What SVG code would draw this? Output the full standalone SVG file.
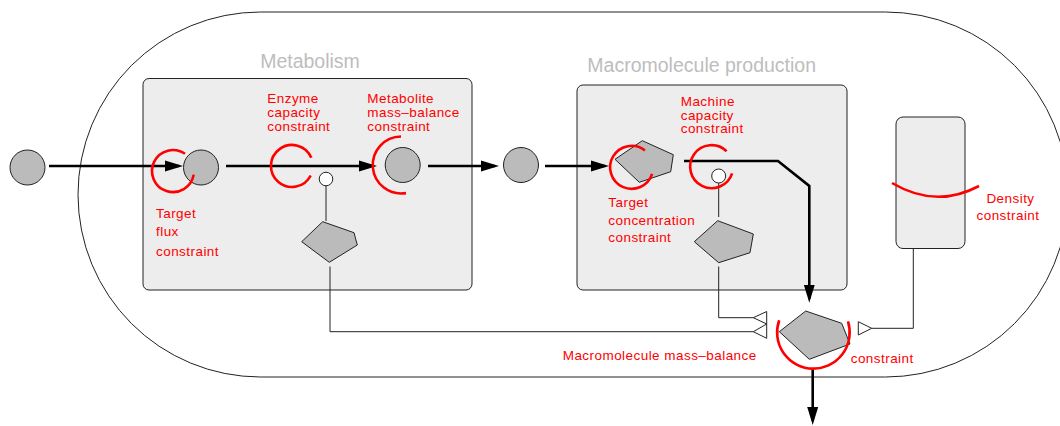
<svg xmlns="http://www.w3.org/2000/svg" width="1060" height="426" viewBox="0 0 1060 426">
<style>
text{font-family:"Liberation Sans",Arial,sans-serif}
.title{font-size:19.5px;fill:#bdbdbd;text-anchor:middle}
.lbl{font-size:13.5px;fill:#ff0000;letter-spacing:0.45px}
.box{fill:#ededed;stroke:#222;stroke-width:1}
.mol{fill:#bbbbbb;stroke:#222;stroke-width:1}
.thin{fill:none;stroke:#222;stroke-width:1}
.thick{fill:none;stroke:#000;stroke-width:2.6}
.red{fill:none;stroke:#ff0000;stroke-width:2.6}
.mod{fill:#fff;stroke:#222;stroke-width:1}
.open{fill:#fff;stroke:#222;stroke-width:1}
</style>
<defs>
<marker id="ah" markerUnits="userSpaceOnUse" markerWidth="19" markerHeight="12" refX="14" refY="6" orient="auto">
<path d="M0,0.5 L18,6 L0,11.5 z" fill="#000"/>
</marker>
</defs>

<g id="cell">
<rect x="78" y="12" width="990" height="365" rx="182.5" ry="182.5" fill="none" stroke="#222" stroke-width="1"/>
</g>

<g id="metabolism">
<rect class="box" x="143" y="78.5" width="329" height="211.5" rx="6"/>
<text class="title" x="310" y="68.3">Metabolism</text>
</g>
<g id="macromolecule-production">
<rect class="box" x="577" y="85" width="270" height="205" rx="6"/>
<text class="title" x="701.7" y="72.3">Macromolecule production</text>
</g>
<g id="density-compartment">
<rect class="box" x="896" y="117" width="69" height="131.5" rx="7"/>
</g>

<g id="connectors">
<line class="thick" x1="49" y1="166" x2="179" y2="166" marker-end="url(#ah)"/>
<line class="thick" x1="226" y1="166" x2="373" y2="166" marker-end="url(#ah)"/>
<line class="thick" x1="428" y1="166" x2="495" y2="166" marker-end="url(#ah)"/>
<line class="thick" x1="545" y1="166" x2="605" y2="166" marker-end="url(#ah)"/>
<path class="thick" d="M684,161 L778,161 L809.3,186 L809.3,298.7" marker-end="url(#ah)"/>
<line class="thick" x1="812.7" y1="370" x2="812.7" y2="421" marker-end="url(#ah)"/>
<line class="thin" x1="326" y1="186" x2="326" y2="221"/>
<path class="thin" d="M330,266.5 L330,331.7 L753.3,331.7"/>
<line class="thin" x1="718.7" y1="183" x2="718.7" y2="217"/>
<path class="thin" d="M718.7,266.5 L718.7,317.7 L753.3,317.7"/>
<path class="thin" d="M871.7,328.3 L913.3,328.3 L913.3,248.5"/>
<polygon class="open" points="753.3,317.7 766.7,311.5 766.7,324"/>
<polygon class="open" points="753.3,331.7 766.7,324 766.7,338.3"/>
<polygon class="open" points="871.7,328.3 858.3,321.7 858.3,335"/>
</g>

<g id="nutrient">
<circle class="mol" cx="27.5" cy="167.5" r="17.5"/>
</g>
<g id="imported-metabolite">
<circle class="mol" cx="201" cy="167.5" r="17.5"/>
</g>
<g id="enzyme">
<circle class="mod" cx="326" cy="179" r="6.8"/>
<polygon class="mol" points="301.7,241.7 322.7,221.7 354,232.7 357.3,245 329.3,262.3"/>
</g>
<g id="metabolite">
<circle class="mol" cx="402.7" cy="165" r="17.5"/>
</g>
<g id="precursor">
<circle class="mol" cx="521" cy="165" r="17.5"/>
</g>
<g id="macromolecule-target">
<polygon class="mol" points="615,159.3 642.3,140.7 673.3,154.7 670.7,171.7 639.3,182.3"/>
</g>
<g id="machine">
<circle class="mod" cx="718.7" cy="176" r="7"/>
<polygon class="mol" points="694.3,241.7 717.7,220.7 753.3,234 750,252.7 718.7,262.7"/>
</g>
<g id="macromolecule">
<polygon class="mol" points="779.3,331.7 805.7,311 841.7,323.3 850,344 809.3,359.3"/>
</g>

<g id="constraints">
<path class="red" d="M185,153.8 A21,21 0 1 0 193.7,174.6"/>
<path class="red" d="M311.3,157.8 A21,21 0 1 0 310.7,175.5"/>
<path class="red" d="M401,136.5 A28.5,28.5 0 1 0 406,193.1"/>
<path class="red" d="M644.9,150.4 A21.5,21.5 0 1 0 652.1,173.9"/>
<path class="red" d="M726.6,151.2 A21.5,21.5 0 1 0 732.1,173.3"/>
<path class="red" d="M779.2,320.2 A36.3,36.3 0 1 0 848,321.4"/>
<path class="red" d="M892,183 Q936,209 979,186"/>
</g>

<g id="labels">
<text class="lbl" x="156" y="217.5">Target</text>
<text class="lbl" x="156" y="235.5">flux</text>
<text class="lbl" x="156" y="255.5">constraint</text>
<text class="lbl" x="267.3" y="102.7">Enzyme</text>
<text class="lbl" x="267.3" y="116.6">capacity</text>
<text class="lbl" x="267.3" y="130.6">constraint</text>
<text class="lbl" x="367.3" y="102.7">Metabolite</text>
<text class="lbl" x="367.3" y="116.6">mass–balance</text>
<text class="lbl" x="367.3" y="130.6">constraint</text>
<text class="lbl" x="680.7" y="105.5">Machine</text>
<text class="lbl" x="680.7" y="119.5">capacity</text>
<text class="lbl" x="680.7" y="133.3">constraint</text>
<text class="lbl" x="608.3" y="207.3">Target</text>
<text class="lbl" x="608.3" y="224.5">concentration</text>
<text class="lbl" x="608.3" y="241.7">constraint</text>
<text class="lbl" x="1010.5" y="203.3" text-anchor="middle">Density</text>
<text class="lbl" x="1008" y="220" text-anchor="middle">constraint</text>
<text class="lbl" x="562.7" y="360">Macromolecule mass–balance</text>
<text class="lbl" x="850.7" y="362.7">constraint</text>
</g>
</svg>
